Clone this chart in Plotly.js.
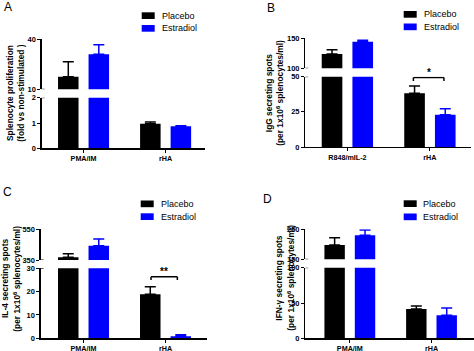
<!DOCTYPE html>
<html><head><meta charset="utf-8">
<script src="https://cdn.plot.ly/plotly-3.0.1.min.js"></script>
<style>html,body{margin:0;padding:0;background:#fff}#chart{width:474px;height:351px}</style>
</head><body><div id="chart"></div>
<script>
// ---- data ----
const series = ['Placebo', 'Estradiol'];
const catsA = ['PMA/IM', 'rHA'];
const catsB = ['R848/mIL-2', 'rHA'];
const catsC = ['PMA/IM', 'rHA'];
const catsD = ['PMA/IM', 'rHA'];

const aPlacebo = [17.6, 0.97],  aPlaceboErr = [9.0, 0.07];
const aEstradiol = [31.0, 0.87], aEstradiolErr = [5.8, 0.02];
const bPlacebo = [123.8, 38.2], bPlaceboErr = [7.2, 5.2];
const bEstradiol = [144.3, 23.0], bEstradiolErr = [2.4, 4.2];
const cPlacebo = [367, 18.9], cPlaceboErr = [24, 3.2];
const cEstradiol = [442, 0.86], cEstradiolErr = [43, 0.64];
const dPlacebo = [197.7, 41.5], dPlaceboErr = [24.3, 4.3];
const dEstradiol = [230, 32.6], dEstradiolErr = [17.7, 10.4];

const titlesA = ['Splenocyte proliferation', '(fold vs non-stimulated )'];
const titlesB = ['IgG secreting spots', '(per 1x10<sup>6</sup> splenocytes/ml)'];
const titlesC = ['IL-4 secreting spots', '(per 1x10<sup>6</sup> splenocytes/ml)'];
const titlesD = ['IFN-\u03b3 secreting spots', '(per 1x10<sup>6</sup> splenocytes/ml)'];

// ---- layout helpers ----
const W = 474, H = 351;
const fx = p => p / W, fy = p => 1 - p / H;
const FONT = '"Liberation Sans", Arial, sans-serif';
const colors = ['#000000', '#0000ff'];

const panels = [
  {letter:'A', letterPos:[7.5,7], cats:catsA, data:[[aPlacebo,aPlaceboErr],[aEstradiol,aEstradiolErr]],
   xpx:[41.7,205], xr:[-0.51,1.48],
   low:{px:[148.3,97.7], range:[0,2], ticks:[0,1,2]}, up:{px:[89.3,39.3], range:[10,40], ticks:[10,40]},
   titles:titlesA, titleX:[10,20.7], titleY:93, legend:{x:141.7, y:[12.3,25], tx:160}},
  {letter:'B', letterPos:[271,7.5], cats:catsB, data:[[bPlacebo,bPlaceboErr],[bEstradiol,bEstradiolErr]],
   xpx:[305.3,471], xr:[-0.51,1.498],
   low:{px:[147,76.7], range:[0,50], ticks:[0,25,50]}, up:{px:[68.3,38.3], range:[100,150], ticks:[100,150]},
   titles:titlesB, titleX:[268.7,280.3], titleY:92.5, legend:{x:403.7, y:[11,23.5], tx:422},
   bracket:{x:[0.80,1.17], y:[49.4,47], stars:'*'}},
  {letter:'C', letterPos:[7,192], cats:catsC, data:[[cPlacebo,cPlaceboErr],[cEstradiol,cEstradiolErr]],
   xpx:[40.7,206.7], xr:[-0.522,1.502],
   low:{px:[338.3,268.3], range:[0,30], ticks:[0,10,20,30]}, up:{px:[260,229], range:[350,550], ticks:[350,550]},
   titles:titlesC, titleX:[5,16.7], titleY:279, legend:{x:140.7, y:[200.5,213.3], tx:159.3},
   bracket:{x:[0.823,1.144], y:[26.4,25], stars:'**'}},
  {letter:'D', letterPos:[267.5,199], cats:catsD, data:[[dPlacebo,dPlaceboErr],[dEstradiol,dEstradiolErr]],
   xpx:[305.3,474], xr:[-0.545,1.52],
   low:{px:[338.3,267.7], range:[0,100], ticks:[0,50,100]}, up:{px:[259.3,229.3], range:[150,250], ticks:[150,250]},
   titles:titlesD, titleX:[278.7,290.7], titleY:278, legend:{x:403.7, y:[200.3,213.5], tx:421}}
];

const traces = [];
const layout = {
  width: W, height: H, margin:{l:0,r:0,t:0,b:0},
  paper_bgcolor:'#fff', plot_bgcolor:'rgba(0,0,0,0)',
  showlegend:false, barmode:'group', bargap:0.256, bargroupgap:0.328,
  font:{family:FONT, color:'#000'},
  shapes:[], annotations:[]
};

const tickFont = {family:FONT, size:7.5, weight:'bold', color:'#000'};

panels.forEach((p, i) => {
  const xn = i === 0 ? '' : String(i + 1);
  const ylN = 2 * i + 1, yuN = 2 * i + 2;
  const yl = ylN === 1 ? '' : String(ylN);
  const yu = String(yuN);
  const xid = 'x' + xn, ylid = 'y' + yl, yuid = 'y' + yu;

  layout['xaxis' + xn] = {
    domain:[fx(p.xpx[0]), fx(p.xpx[1])], anchor: ylid, type:'category', range:p.xr,
    showline:true, linecolor:'#000', linewidth:1.3, showgrid:false, zeroline:false,
    ticks:'outside', ticklen:3, tickwidth:1, tickcolor:'#000',
    tickfont:{family:FONT, size:7.2, weight:'bold', color:'#000'}, fixedrange:true
  };
  const yCommon = {anchor: xid, showline:true, linecolor:'#000', linewidth:1.3, showgrid:false,
    zeroline:false, ticks:'outside', ticklen:3, tickwidth:1, tickcolor:'#000', tickfont:tickFont, fixedrange:true};
  layout['yaxis' + yl] = Object.assign({}, yCommon, {
    domain:[fy(p.low.px[0]), fy(p.low.px[1])], range:p.low.range, tickvals:p.low.ticks});
  layout['yaxis' + yu] = Object.assign({}, yCommon, {
    domain:[fy(p.up.px[0]), fy(p.up.px[1])], range:p.up.range, tickvals:p.up.ticks});

  [ylid, yuid].forEach(yid => {
    p.data.forEach((d, k) => {
      traces.push({
        type:'bar', name:series[k], x:p.cats, y:d[0], xaxis:xid, yaxis:yid,
        marker:{color:colors[k], line:{width:0}},
        error_y:{type:'data', symmetric:false, array:d[1], arrayminus:d[1].map(() => 0),
                 color:colors[k], thickness:1.5, width:5.5},
        hoverinfo:'skip', showlegend:false
      });
    });
  });

  // axis-break end marks (short crossing ticks to the right of the axis)
  [[ylid, p.low.range[1]], [yuid, p.up.range[0]]].forEach(([yid, v]) => {
    layout.shapes.push({type:'line', xref:'paper', yref:yid, x0:fx(p.xpx[0]), x1:fx(p.xpx[0] + 3),
      y0:v, y1:v, line:{color:'#000', width:1}});
  });

  // panel letter
  layout.annotations.push({xref:'paper', yref:'paper', x:fx(p.letterPos[0]), y:fy(p.letterPos[1]),
    text:p.letter, showarrow:false, xanchor:'center', yanchor:'middle',
    font:{family:FONT, size:12, color:'#000'}});

  // y titles
  p.titles.forEach((t, j) => {
    layout.annotations.push({xref:'paper', yref:'paper', x:fx(p.titleX[j]), y:fy(p.titleY),
      text:t, textangle:-90, showarrow:false, xanchor:'center', yanchor:'middle',
      font:{family:FONT, size:8.4, weight:'bold', color:'#000'}});
  });

  // legend (manual)
  series.forEach((s, k) => {
    const top = p.legend.y[k];
    layout.shapes.push({type:'rect', xref:'paper', yref:'paper', x0:fx(p.legend.x), x1:fx(p.legend.x + 13),
      y0:fy(top + 6.7), y1:fy(top), fillcolor:colors[k], line:{width:0}});
    layout.annotations.push({xref:'paper', yref:'paper', x:fx(p.legend.tx), y:fy(top + 3.35),
      text:s, showarrow:false, xanchor:'left', yanchor:'middle',
      font:{family:FONT, size:9, color:'#000'}});
  });

  // significance bracket
  if (p.bracket) {
    const b = p.bracket;
    const ln = {color:'#000', width:1.5};
    layout.shapes.push({type:'line', xref:xid, yref:ylid, x0:b.x[0], x1:b.x[1], y0:b.y[0], y1:b.y[0], line:ln});
    layout.shapes.push({type:'line', xref:xid, yref:ylid, x0:b.x[0], x1:b.x[0], y0:b.y[0], y1:b.y[1], line:ln});
    layout.shapes.push({type:'line', xref:xid, yref:ylid, x0:b.x[1], x1:b.x[1], y0:b.y[0], y1:b.y[1], line:ln});
    layout.annotations.push({xref:xid, yref:ylid, x:(b.x[0] + b.x[1]) / 2, y:b.y[0],
      text:b.stars, showarrow:false, xanchor:'center', yanchor:'bottom', yshift:-2,
      font:{family:FONT, size:10, weight:'bold', color:'#000'}});
  }
});

Plotly.newPlot('chart', traces, layout, {displayModeBar:false, staticPlot:true});
</script>
</body></html>
